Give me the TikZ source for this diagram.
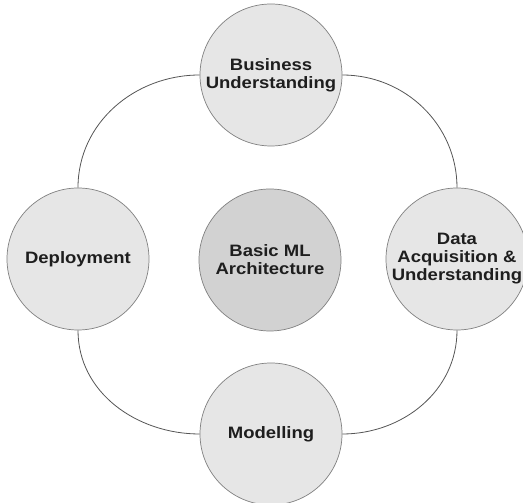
\documentclass[tikz,border=0pt]{standalone}
\usepackage{fontspec}
\setsansfont{Liberation Sans}[FakeStretch=1.12]
\usepackage{xcolor}
\usepackage{tikz}
\usetikzlibrary{positioning}
\definecolor{phasefill}{HTML}{E6E6E6}
\definecolor{corefill}{HTML}{D2D2D2}
\definecolor{rimgray}{HTML}{808080}
\definecolor{linkgray}{HTML}{555555}
\definecolor{textgray}{HTML}{1E1E1E}

\begin{document}
\begin{tikzpicture}[x=1pt, y=1pt,
phase/.style={circle, draw=rimgray, line width=0.7pt, fill=phasefill, minimum size=142pt, inner sep=0pt, align=center, text=textgray, font=\sffamily\bfseries\fontsize{16.5}{18}\selectfont},
core/.style={phase, fill=corefill},
link/.style={draw=linkgray, line width=0.8pt},
]
\useasboundingbox (0, 0) rectangle (523, 503);
\clip (0, 0) rectangle (523, 503);

%Centres of the phases
\coordinate (ct) at (271, 428);
\coordinate (cl) at (78, 244);
\coordinate (cr) at (457, 244);
\coordinate (cb) at (271, 69);

%Phases
\node[core]  (core)   at (270, 243) {Basic ML\\Architecture};
\node[phase] (busi)   at (ct) {Business\\Understanding};
\node[phase] (deploy) at (cl) {Deployment};
\node[phase] (data)   at (cr) {Data\\Acquisition \&\\Understanding};
\node[phase] (model)  at (cb) {Modelling};

%Links between phases
\draw[link] (busi.west)  to[out=180, in=90]  (deploy.north);
\draw[link] (busi.east)  to[out=0,   in=90]  (data.north);
\draw[link] (deploy.south) to[out=-90, in=180] (model.west);
\draw[link] (data.south) to[out=-90, in=0]   (model.east);
\end{tikzpicture}
\end{document}
